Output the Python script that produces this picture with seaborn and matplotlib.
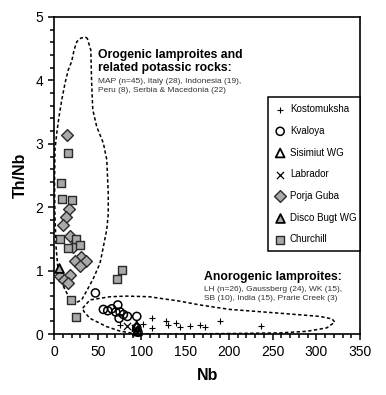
import numpy as np
import pandas as pd
import matplotlib
matplotlib.use("Agg")
import matplotlib.pyplot as plt
from matplotlib.ticker import MultipleLocator
import seaborn as sns

# point data (Nb, Th/Nb)
kosto_nb = [75.5, 102, 111.7, 111.7, 128.4, 130, 140, 144, 155, 167, 172.8, 190, 237]
kosto_thnb = [0.15, 0.16, 0.25, 0.10, 0.20, 0.14, 0.18, 0.12, 0.13, 0.14, 0.11, 0.20, 0.13]

kval_nb = [47.3, 56.4, 61.4, 66, 70.6, 72.9, 75.5, 74.4, 79.3, 83.9, 94.6, 94.6, 96]
kval_thnb = [0.65, 0.39, 0.37, 0.40, 0.35, 0.46, 0.35, 0.25, 0.31, 0.28, 0.28, 0.10, 0.03]

sisi_nb = [94.6, 95.5]
sisi_thnb = [0.13, 0.05]

labr_nb = [83.2, 92, 94.6]
labr_thnb = [0.13, 0.09, 0.04]

porja_nb = [15.2, 17.5, 13.7, 9.9, 18.3, 21.3, 30.9, 36.6, 24, 29.7, 7.2, 18, 11.8, 16]
porja_thnb = [3.14, 1.97, 1.85, 1.72, 1.55, 1.38, 1.22, 1.16, 1.15, 1.07, 0.91, 0.94, 0.86, 0.81]

disco_nb = [6.1]
disco_thnb = [1.04]

church_nb = [16.4, 8, 9.5, 21, 6.9, 25.2, 16.4, 29.7, 19.5, 25.2, 77.4, 72.5]
church_thnb = [2.85, 2.38, 2.13, 2.12, 1.50, 1.50, 1.36, 1.41, 0.54, 0.27, 1.01, 0.87]

# field outlines
oro_nb = [36.6, 38.1, 42, 43, 44.3, 48.8, 56.4, 60.3, 62, 62, 60.3, 56, 52.6, 45, 38, 31.6,
          24, 18, 14.5, 6.9, 4, 2.3, 1, 0.6, 1.1, 3.1, 5.7, 8.8, 12.6, 16.4, 20.2, 22.9, 26, 31, 36.6]
oro_thnb = [4.68, 4.66, 4.48, 3.96, 3.54, 3.27, 3.01, 2.75, 2.22, 1.9, 1.65, 1.35, 1.12, 0.88, 0.70, 0.54,
            0.49, 0.56, 0.65, 0.86, 1.1, 1.38, 1.9, 2.4, 2.91, 3.17, 3.43, 3.69, 3.96, 4.17, 4.30, 4.48, 4.61, 4.67, 4.68]

anoro_nb = [32.8, 41, 64, 83, 109, 144, 167, 201, 258.6, 304, 318, 321, 312, 289, 258.6, 200, 120,
            91, 75, 60, 41, 34, 32.8]
anoro_thnb = [0.41, 0.54, 0.59, 0.60, 0.59, 0.52, 0.46, 0.39, 0.33, 0.28, 0.24, 0.19, 0.10, 0.045, 0.02, 0.01, 0.0,
              0.01, 0.05, 0.12, 0.25, 0.36, 0.41]

sns.set_style("white")
plt.rcParams["font.family"] = ["Liberation Sans", "DejaVu Sans"]
plt.rcParams["text.color"] = "black"
plt.rcParams["axes.labelcolor"] = "black"
plt.rcParams["xtick.color"] = "black"
plt.rcParams["ytick.color"] = "black"

fig = plt.figure(figsize=(3.86, 3.95), dpi=100)
ax = fig.add_axes([0.14, 0.154, 0.793, 0.803])

gray = "#a9a9a9"
edge = "#2a2a2a"
groups = [
    ("Kostomuksha", kosto_nb, kosto_thnb, dict(marker="+", s=22, color="black", linewidth=0.8)),
    ("Kvaloya", kval_nb, kval_thnb, dict(marker="o", s=34, facecolor="none", edgecolor="black", linewidth=1.1)),
    ("Sisimiut WG", sisi_nb, sisi_thnb, dict(marker="^", s=40, facecolor="none", edgecolor="black", linewidth=1.3)),
    ("Labrador", labr_nb, labr_thnb, dict(marker="x", s=26, color="black", linewidth=0.9)),
    ("Porja Guba", porja_nb, porja_thnb, dict(marker="D", s=36, facecolor=gray, edgecolor=edge, linewidth=1.0)),
    ("Disco Bugt WG", disco_nb, disco_thnb, dict(marker="^", s=40, facecolor=gray, edgecolor="black", linewidth=1.3)),
    ("Churchill", church_nb, church_thnb, dict(marker="s", s=34, facecolor=gray, edgecolor=edge, linewidth=1.0)),
]

for name, xs, ys, kw in groups:
    df = pd.DataFrame({"Nb": xs, "Th/Nb": ys})
    sns.scatterplot(data=df, x="Nb", y="Th/Nb", ax=ax, label=name, zorder=3, clip_on=False, **kw)

# dashed fields
sns.lineplot(x=oro_nb, y=oro_thnb, sort=False, ax=ax, color="black", lw=1.1,
             linestyle=(0, (2.2, 1.6)), estimator=None)
sns.lineplot(x=anoro_nb, y=anoro_thnb, sort=False, ax=ax, color="black", lw=1.1,
             linestyle=(0, (2.2, 1.6)), estimator=None)

ax.set_xlim(0, 350)
ax.set_ylim(0, 5)
ax.xaxis.set_major_locator(MultipleLocator(50))
ax.xaxis.set_minor_locator(MultipleLocator(10))
ax.yaxis.set_major_locator(MultipleLocator(1))
ax.yaxis.set_minor_locator(MultipleLocator(0.2))
ax.tick_params(axis="both", which="major", direction="out", length=4.5, width=1.1,
               labelsize=10, pad=3, bottom=True, left=True, colors="black")
ax.tick_params(axis="both", which="minor", direction="out", length=3, width=1.1,
               bottom=True, left=True, colors="black")
for sp in ax.spines.values():
    sp.set_linewidth(1.2)
    sp.set_color("black")

ax.set_xlabel("Nb", fontsize=11.5, fontweight="bold", labelpad=7, color="black")
ax.set_ylabel("Th/Nb", fontsize=11.5, fontweight="bold", labelpad=6, color="black")

ax.text(50.3, 4.50, "Orogenic lamproites and\nrelated potassic rocks:", fontsize=8.8,
        fontweight="bold", va="top", ha="left", linespacing=1.1, color="black")
ax.text(50.3, 4.04, "MAP (n=45), Italy (28), Indonesia (19),\nPeru (8), Serbia & Macedonia (22)",
        fontsize=6.0, color="#333333", va="top", ha="left", linespacing=1.35)
ax.text(171.6, 1.0, "Anorogenic lamproites:", fontsize=8.8, fontweight="bold", va="top", ha="left",
        color="black")
ax.text(171.6, 0.76, "LH (n=26), Gaussberg (24), WK (15),\nSB (10), India (15), Prarie Creek (3)",
        fontsize=6.0, color="#333333", va="top", ha="left", linespacing=1.35)

leg = ax.legend(loc="upper left", bbox_to_anchor=(0.699, 0.263, 0.301, 0.485), mode="expand",
                fontsize=7, frameon=True, fancybox=False, edgecolor="black", borderaxespad=0,
                labelspacing=1.2, borderpad=0.75, handlelength=1.0, handletextpad=0.5,
                markerscale=1.0)
leg.get_frame().set_linewidth(1.1)
leg.get_frame().set_alpha(1)
for t in leg.get_texts():
    t.set_color("black")

fig.savefig("out.png", dpi=100)
